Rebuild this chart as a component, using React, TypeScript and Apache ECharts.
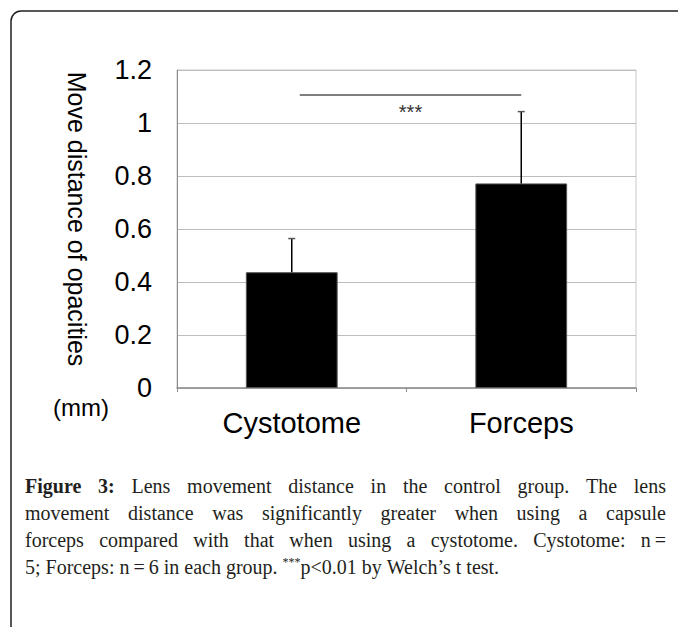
import React, { useEffect, useRef } from 'react';
import * as echarts from 'echarts';

const categories = ['Cystotome', 'Forceps'];
const means = [0.437, 0.772];
const errors = [0.127, 0.271];
const yMin = 0;
const yMax = 1.2;
const yStep = 0.2;
const sigFrom = 0;
const sigTo = 1;
const sigLevel = 1.106;
const sigLabel = '***';
const yAxisTitle = 'Move distance of opacities';
const unitLabel = '(mm)';
const captionLead = 'Figure 3:';
const captionLines = [
  'Lens movement distance in the control group. The lens',
  'movement distance was significantly greater when using a capsule',
  'forceps compared with that when using a cystotome. Cystotome: n\u2009=',
  '5; Forceps: n\u2009=\u20096 in each group. ***p<0.01 by Welch\u2019s t test.',
];

const SANS = '"Liberation Sans", Arial, sans-serif';
const SERIF = '"Liberation Serif", "Times New Roman", serif';

type Seg = { text: string; bold?: boolean; sup?: boolean };

function buildCaption(): any[] {
  const ctx = document.createElement('canvas').getContext('2d') as CanvasRenderingContext2D;
  const size = 20;
  const supSize = 12;
  const fontOf = (s: Seg) =>
    `${s.bold ? 'bold ' : ''}${s.sup ? supSize : size}px ${SERIF}`;
  const measure = (s: Seg) => {
    ctx.font = fontOf(s);
    return ctx.measureText(s.text).width;
  };
  const left = 25;
  const right = 666;
  const lineY = [486, 513, 540, 567];
  const els: any[] = [];
  captionLines.forEach((line, li) => {
    const words: Seg[][] = [];
    if (li === 0) {
      captionLead.split(' ').forEach((w) => words.push([{ text: w, bold: true }]));
    }
    line.split(' ').forEach((w) => {
      if (w.startsWith('***') && w.length > 3) {
        words.push([{ text: '***', sup: true }, { text: w.slice(3) }]);
      } else {
        words.push([{ text: w }]);
      }
    });
    const widths = words.map((w) => w.reduce((a, s) => a + measure(s), 0));
    const total = widths.reduce((a, b) => a + b, 0);
    const justify = li < captionLines.length - 1;
    ctx.font = `${size}px ${SERIF}`;
    const space = ctx.measureText(' ').width;
    const gap = justify ? (right - left - total) / (words.length - 1) : space;
    let x = left;
    words.forEach((w, wi) => {
      let sx = x;
      w.forEach((s) => {
        els.push({
          type: 'text',
          x: sx,
          y: s.sup ? lineY[li] - 5 : lineY[li],
          silent: true,
          style: {
            text: s.text,
            fontSize: s.sup ? supSize : size,
            fontWeight: s.bold ? 'bold' : 'normal',
            fontFamily: SERIF,
            fill: '#231f20',
            align: 'left',
            verticalAlign: 'middle',
          },
        });
        sx += measure(s);
      });
      x += widths[wi] + gap;
    });
  });
  return els;
}

export default function App() {
  const ref = useRef<HTMLDivElement>(null);
  useEffect(() => {
    if (!ref.current) return;
    const chart = echarts.init(ref.current, null, { renderer: 'svg' });
    const errData = categories.map((_, i) => [i, means[i], means[i] + errors[i]]);
    const option: any = {
      animation: false,
      backgroundColor: '#fff',
      grid: {
        left: 177,
        right: 42,
        top: 70,
        bottom: 239,
        show: true,
        borderColor: '#c8c8c8',
        borderWidth: 1,
      },
      xAxis: {
        type: 'category',
        data: categories,
        axisLine: { show: true, lineStyle: { color: '#8c8c8c', width: 1.5 } },
        axisTick: { show: true, length: 4, lineStyle: { color: '#8c8c8c' } },
        axisLabel: { fontSize: 29, color: '#000', fontFamily: SANS, margin: 20 },
        splitLine: { show: false },
      },
      yAxis: {
        type: 'value',
        min: yMin,
        max: yMax,
        interval: yStep,
        axisLine: { show: true, lineStyle: { color: '#8c8c8c', width: 1 } },
        axisTick: { show: false },
        splitLine: { show: true, lineStyle: { color: '#bdbdbd', width: 1 } },
        axisLabel: {
          fontSize: 27,
          color: '#000',
          fontFamily: SANS,
          margin: 25,
          formatter: (v: number) => String(Math.round(v * 10) / 10),
        },
      },
      series: [
        {
          type: 'bar',
          data: means,
          barWidth: '40%',
          itemStyle: { color: '#000', borderColor: '#555', borderWidth: 1 },
          z: 2,
        },
        {
          type: 'custom',
          data: errData,
          encode: { x: 0, y: [1, 2] },
          z: 3,
          renderItem: (params: any, api: any) => {
            const lo = api.coord([api.value(0), api.value(1)]);
            const hi = api.coord([api.value(0), api.value(2)]);
            return {
              type: 'group',
              children: [
                {
                  type: 'line',
                  shape: { x1: lo[0], y1: lo[1], x2: hi[0], y2: hi[1] },
                  style: { stroke: '#000', lineWidth: 1.5 },
                },
                {
                  type: 'line',
                  shape: { x1: hi[0] - 3.5, y1: hi[1], x2: hi[0] + 3.5, y2: hi[1] },
                  style: { stroke: '#555', lineWidth: 1.5 },
                },
              ],
            };
          },
        },
        {
          type: 'custom',
          data: [[sigFrom, sigTo, sigLevel]],
          encode: { x: [0, 1], y: 2 },
          z: 3,
          renderItem: (params: any, api: any) => {
            const a = api.coord([api.value(0), api.value(2)]);
            const b = api.coord([api.value(1), api.value(2)]);
            const x1 = a[0] + 8;
            return {
              type: 'group',
              children: [
                {
                  type: 'line',
                  shape: { x1, y1: a[1], x2: b[0], y2: b[1] },
                  style: { stroke: '#555', lineWidth: 1.5 },
                },
                {
                  type: 'text',
                  x: (x1 + b[0]) / 2,
                  y: a[1] + 17,
                  style: {
                    text: sigLabel,
                    fontSize: 20,
                    fontFamily: SANS,
                    fill: '#333',
                    align: 'center',
                    verticalAlign: 'middle',
                  },
                },
              ],
            };
          },
        },
      ],
      graphic: [
        {
          type: 'rect',
          silent: true,
          shape: { x: 11, y: 11, width: 900, height: 900, r: 10 },
          style: { fill: 'none', stroke: '#231f20', lineWidth: 1.5 },
        },
        {
          type: 'text',
          x: 77,
          y: 219,
          rotation: -Math.PI / 2,
          silent: true,
          style: {
            text: yAxisTitle,
            fontSize: 25,
            fontFamily: SANS,
            fill: '#000',
            align: 'center',
            verticalAlign: 'middle',
          },
        },
        {
          type: 'text',
          x: 81,
          y: 407,
          silent: true,
          style: {
            text: unitLabel,
            fontSize: 24,
            fontFamily: SANS,
            fill: '#000',
            align: 'center',
            verticalAlign: 'middle',
          },
        },
        ...buildCaption(),
      ],
    };
    chart.setOption(option);
    return () => chart.dispose();
  }, []);
  return (
    <div
      ref={ref}
      style={{ position: 'fixed', left: 0, top: 0, width: 678, height: 627, background: '#fff' }}
    />
  );
}
